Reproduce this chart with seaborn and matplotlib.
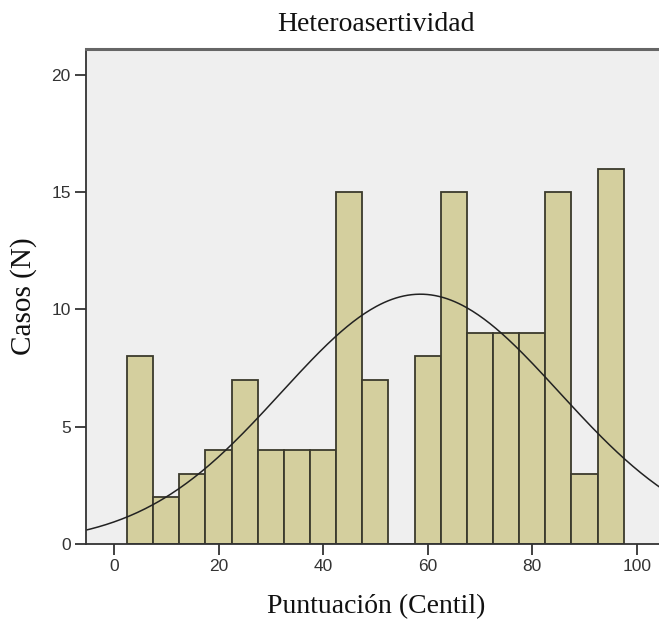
import numpy as np
import pandas as pd
import matplotlib
matplotlib.use("Agg")
import matplotlib.pyplot as plt
import seaborn as sns

# Histogram values (bin width 5)
bin_edges = [2.5, 7.5, 12.5, 17.5, 22.5, 27.5, 32.5, 37.5, 42.5, 47.5,
             52.5, 57.5, 62.5, 67.5, 72.5, 77.5, 82.5, 87.5, 92.5, 97.5]
bin_centers = [5, 10, 15, 20, 25, 30, 35, 40, 45, 50,
               55, 60, 65, 70, 75, 80, 85, 90, 95]
counts = [8, 2, 3, 4, 7, 4, 4, 4, 15, 7,
          0, 8, 15, 9, 9, 9, 15, 3, 16]

# normal curve parameters (estimated from the drawn curve)
curve_mean = 58.6
curve_sd = 26.6
bin_width = 5

x_ticks = [0, 20, 40, 60, 80, 100]
y_ticks = [0, 5, 10, 15, 20]

title = "Heteroasertividad"
x_label = "Puntuación (Centil)"
y_label = "Casos (N)"

sns.set_style("ticks")

df = pd.DataFrame({"score": bin_centers, "n": counts})

fig = plt.figure(figsize=(6.59, 6.2), dpi=100)
ax = fig.add_axes([86 / 659, 1 - 544 / 620, 1 - 86 / 659 + 0.01, (544 - 49) / 620])
ax.set_facecolor("#efefef")

sns.histplot(data=df, x="score", weights="n", bins=bin_edges, ax=ax,
             color="#d4cf9e", edgecolor="#3b3a2c", linewidth=1.3, alpha=1)

# normal curve scaled to counts
xs = np.linspace(-6, 106, 300)
total = sum(counts)
ys = total * bin_width / (curve_sd * np.sqrt(2 * np.pi)) * np.exp(-0.5 * ((xs - curve_mean) / curve_sd) ** 2)
sns.lineplot(x=xs, y=ys, ax=ax, color="#222222", linewidth=1.1)

ax.set_xlim(-5.35, 105.5)
ax.set_ylim(0, 21.1)
ax.set_xticks(x_ticks)
ax.set_yticks(y_ticks)

ax.tick_params(axis="both", direction="out", length=8, width=1.3, color="#333333",
               labelsize=12.5, labelcolor="#333333", pad=3)
for lbl in ax.get_xticklabels() + ax.get_yticklabels():
    lbl.set_fontfamily("Liberation Sans")

ax.spines["right"].set_visible(False)
ax.spines["left"].set_color("#333333")
ax.spines["left"].set_linewidth(1.3)
ax.spines["bottom"].set_color("#333333")
ax.spines["bottom"].set_linewidth(1.3)
ax.spines["top"].set_color("#666666")
ax.spines["top"].set_linewidth(2.2)

ax.set_title(title, fontfamily="Liberation Serif", fontsize=20, pad=13, color="#111111")
ax.set_xlabel(x_label, fontfamily="Liberation Serif", fontsize=20, labelpad=14, color="#111111")
ax.set_ylabel(y_label, fontfamily="Liberation Serif", fontsize=21, labelpad=10, color="#111111")

fig.savefig("out.png", dpi=100)
